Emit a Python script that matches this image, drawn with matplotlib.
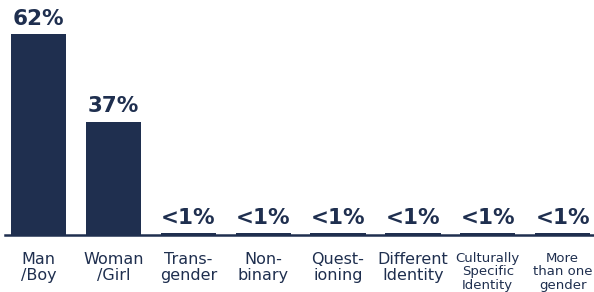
import numpy as np
import matplotlib
matplotlib.use('Agg')
import matplotlib.pyplot as plt

# gender identity shares
categories = ['Man\n/Boy', 'Woman\n/Girl', 'Trans-\ngender', 'Non-\nbinary',
              'Quest-\nioning', 'Different\nIdentity',
              'Culturally\nSpecific\nIdentity', 'More\nthan one\ngender']
values = [62, 35, 0.6, 0.6, 0.6, 0.6, 0.6, 0.6]
value_labels = ['62%', '37%', '<1%', '<1%', '<1%', '<1%', '<1%', '<1%']

navy = '#1f2f4f'
plt.rcParams['font.family'] = ['DejaVu Sans']

fig = plt.figure(figsize=(5.94, 2.92), dpi=100)
ax = fig.add_axes([5/594, 57/292, 589/594, 201/292])

x = np.arange(len(categories))
ax.bar(x, values, width=0.74, color=navy)

for xi, v, lab in zip(x, values, value_labels):
    ax.text(xi, v + 1.6, lab, ha='center', va='bottom', color=navy,
            fontsize=15.5, fontweight='bold', clip_on=False)

ax.set_xlim(-0.45, 7.42)
ax.set_ylim(0, 62)
ax.set_xticks(x)
ax.set_xticklabels(categories, color=navy, fontsize=11.5, linespacing=1.1)
for i in (6, 7):
    ax.get_xticklabels()[i].set_fontsize(9.5)
    ax.get_xticklabels()[i].set_linespacing(1.05)
ax.tick_params(axis='x', length=0, pad=12)
ax.set_yticks([])
for s in ('top', 'right', 'left'):
    ax.spines[s].set_visible(False)
ax.spines['bottom'].set_color(navy)
ax.spines['bottom'].set_linewidth(1.8)

fig.savefig('out.png', dpi=100)
